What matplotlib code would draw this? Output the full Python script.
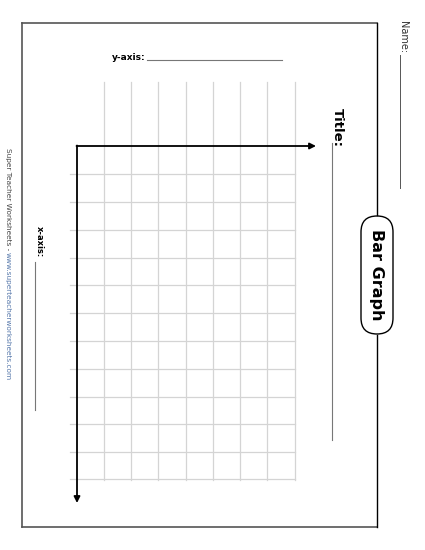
import matplotlib
matplotlib.use("Agg")
import matplotlib.pyplot as plt
from matplotlib.patches import FancyBboxPatch

# Template content
labels = {"y": "y-axis:", "x": "x-axis:", "title": "Title:", "name": "Name:", "badge": "Bar Graph"}
footer = "Super Teacher Worksheets - "
footer_url = "www.superteacherworksheets.com"
grid_cols = [104, 131, 158, 186, 213, 240, 267, 295]
grid_rows = [174, 202, 230, 258, 285, 313, 341, 369, 397, 424, 452, 479]

fig = plt.figure(figsize=(4.25, 5.5), dpi=100)
ax = fig.add_axes([0, 0, 1, 1])
ax.set_xlim(0, 425); ax.set_ylim(550, 0); ax.axis("off")

gc = "#d4d4d4"
for x in grid_cols:
    ax.plot([x, x], [82, 480], color=gc, lw=0.9)
for y in grid_rows:
    ax.plot([70, 295], [y, y], color=gc, lw=0.9)

bc = "#555555"
ax.plot([22, 22], [23, 527], color=bc, lw=1.2)
ax.plot([22, 377], [23, 23], color=bc, lw=1.2)
ax.plot([22, 377], [527, 527], color=bc, lw=1.2)
ax.plot([377, 377], [23, 215], color="black", lw=1.0)
ax.plot([377, 377], [335, 527], color="black", lw=1.0)

ax.annotate("", xy=(316, 146), xytext=(76.5, 146),
            arrowprops=dict(arrowstyle="-|>", color="black", lw=1.3, mutation_scale=9, shrinkA=0, shrinkB=0))
ax.annotate("", xy=(77, 503), xytext=(77, 145.5),
            arrowprops=dict(arrowstyle="-|>", color="black", lw=1.3, mutation_scale=9, shrinkA=0, shrinkB=0))

ax.add_patch(FancyBboxPatch((361, 216), 32, 118, boxstyle="round,pad=0,rounding_size=16",
                            fc="white", ec="black", lw=1.0))
ax.text(377, 275, labels["badge"], rotation=-90, ha="center", va="center",
        fontsize=11.5, fontweight="bold")

ax.text(112, 57, labels["y"], ha="left", va="center", fontsize=6.5, fontweight="bold")
ax.plot([147, 282], [60, 60], color="#777777", lw=0.8)
ax.text(337, 108, labels["title"], rotation=-90, ha="center", va="top", fontsize=9.5, fontweight="bold")
ax.plot([332, 332], [143, 440], color="#777777", lw=0.8)
ax.text(403, 21, labels["name"], rotation=-90, ha="center", va="top", fontsize=7, color="#333333")
ax.plot([400, 400], [55, 188], color="#555555", lw=0.7)
ax.text(39, 226, labels["x"], rotation=-90, ha="center", va="top", fontsize=6, fontweight="bold")
ax.plot([35, 35], [262, 410], color="#777777", lw=0.8)
ax.text(8, 148, footer, rotation=-90, ha="center", va="top", fontsize=5.3, color="#444444")
ax.text(8, 252, footer_url, rotation=-90, ha="center", va="top", fontsize=5.3, color="#5577aa")

fig.savefig("out.png", dpi=100)
